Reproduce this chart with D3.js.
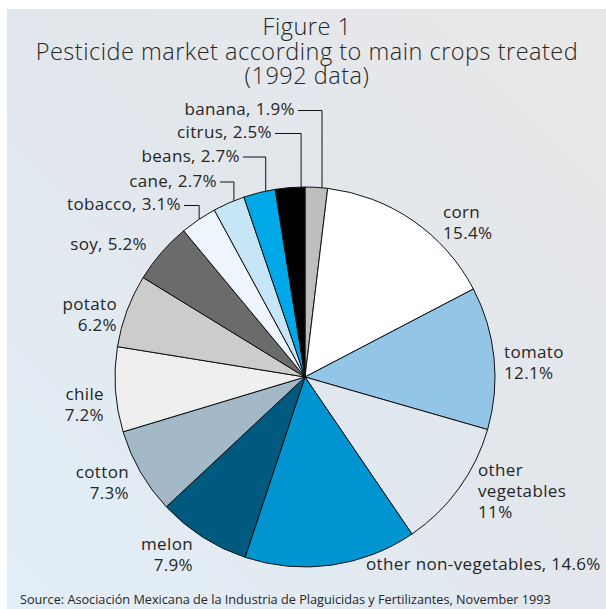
<!DOCTYPE html>
<html><head><meta charset="utf-8">
<script src="https://cdn.jsdelivr.net/npm/d3@7"></script>
<style>html,body{margin:0;padding:0;background:#fff;}svg{display:block;}</style>
</head><body>
<script>
const categories = ["banana","corn","tomato","other vegetables","other non-vegetables","melon","cotton","chile","potato","soy","tobacco","cane","beans","citrus"];
const values = [1.9,15.4,12.1,11,14.6,7.9,7.3,7.2,6.2,5.2,3.1,2.7,2.7,2.5];
const valueLabels = ["1.9%","15.4%","12.1%","11%","14.6%","7.9%","7.3%","7.2%","6.2%","5.2%","3.1%","2.7%","2.7%","2.5%"];
const sliceColors = ["#bebebe","#ffffff","#93c6e6","#e0e7ee","#0095d0","#005a80","#a3b9c8","#efefef","#cccccc","#6b6b6b","#eef5fc","#c6e6f8","#00a8e8","#000000"];
const titleLines = ["Figure 1","Pesticide market according to main crops treated","(1992 data)"];
const sourceText = "Source: Asociación Mexicana de la Industria de Plaguicidas y Fertilizantes, November 1993";

// label layout (offsets from pie centre), kept apart from the data
const labelLayout = {
  "banana":{dx:-10,dy:-262,anchor:"end",mode:"inline",leaderAt:0.75},
  "citrus":{dx:-33,dy:-239,anchor:"end",mode:"inline",leaderAt:0.87},
  "beans":{dx:-65,dy:-215.5,anchor:"end",mode:"inline",leaderAt:0.70},
  "cane":{dx:-88,dy:-190.5,anchor:"end",mode:"inline",leaderAt:0.67},
  "tobacco":{dx:-124,dy:-167,anchor:"end",mode:"inline",leaderAt:0.52},
  "soy":{dx:-158,dy:-127,anchor:"end",mode:"inline"},
  "potato":{dx:-188,dy:-67,anchor:"end",mode:"stack"},
  "chile":{dx:-201,dy:23,anchor:"end",mode:"stack"},
  "cotton":{dx:-176,dy:101,anchor:"end",mode:"stack"},
  "melon":{dx:-112,dy:173,anchor:"end",mode:"stack"},
  "other non-vegetables":{dx:61,dy:193,anchor:"start",mode:"inline"},
  "other vegetables":{dx:173,dy:98.5,anchor:"start",mode:"stack"},
  "tomato":{dx:199,dy:-19,anchor:"start",mode:"stack"},
  "corn":{dx:138,dy:-159,anchor:"start",mode:"stack"}
};

const W = 606, H = 609;
const cx = 305, cy = 377, R = 190;
const font = "'Open Sans', sans-serif";
const textColor = "#262626";

const svg = d3.select("body").append("svg").attr("width", W).attr("height", H);
const defs = svg.append("defs");
const grad = defs.append("linearGradient").attr("id","bg").attr("x1","0").attr("y1","1").attr("x2","1").attr("y2","0");
grad.append("stop").attr("offset","0").attr("stop-color","#e2eff8");
grad.append("stop").attr("offset","0.5").attr("stop-color","#e2e7ed");
grad.append("stop").attr("offset","1").attr("stop-color","#e8e8e8");

svg.append("rect").attr("x",0).attr("y",0).attr("width",W).attr("height",H).attr("fill","#fff");
svg.append("rect").attr("x",7).attr("y",9).attr("width",W-7).attr("height",H-9).attr("fill","url(#bg)");

// title
const title = svg.append("text").attr("text-anchor","middle").attr("font-family",font)
  .attr("font-size",23.5).attr("font-weight",300).attr("letter-spacing",0.5).attr("fill",textColor);
titleLines.forEach((t,i)=>{
  title.append("tspan").attr("x",307).attr("y",35 + i*24.5).text(t);
});

// pie
const pie = d3.pie().sort(null).value(d=>d).startAngle(0).endAngle(2*Math.PI);
const arcs = pie(values);
const arc = d3.arc().innerRadius(0).outerRadius(R);
const g = svg.append("g").attr("transform",`translate(${cx},${cy})`);
g.selectAll("path").data(arcs).join("path")
  .attr("d",arc)
  .attr("fill",(d,i)=>sliceColors[i])
  .attr("stroke","#111").attr("stroke-width",1).attr("stroke-linejoin","round");

// labels
const lg = svg.append("g").attr("transform",`translate(${cx},${cy})`)
  .attr("font-family",font).attr("font-size",17).attr("font-weight",400)
  .attr("letter-spacing",0.35).attr("fill",textColor);
const lineH = 21;
arcs.forEach((a,i)=>{
  const name = categories[i];
  const L = labelLayout[name];
  const t = lg.append("text").attr("text-anchor",L.anchor);
  let lines;
  if (L.mode === "inline") lines = [name + ", " + valueLabels[i]];
  else lines = (name === "other vegetables" ? ["other","vegetables"] : [name]).concat([valueLabels[i]]);
  lines.forEach((s,k)=>{
    t.append("tspan").attr("x",L.dx).attr("y",L.dy + k*lineH).text(s);
  });
  if (L.leaderAt !== undefined) {
    const w = t.node().getComputedTextLength();
    const ang = a.startAngle + L.leaderAt*(a.endAngle - a.startAngle);
    const lx = R*Math.sin(ang);
    const ly = L.dy - 4.5;
    const ey = -Math.sqrt(R*R - lx*lx);
    const x0 = L.anchor === "end" ? L.dx + 3 : L.dx + w + 3;
    lg.append("path")
      .attr("d",`M${x0},${ly}H${lx}V${ey}`)
      .attr("fill","none").attr("stroke","#111").attr("stroke-width",1);
  }
});

// source
svg.append("text").attr("x",20).attr("y",604).attr("font-family",font)
  .attr("font-size",12.7).attr("fill",textColor).text(sourceText);
</script>
</body></html>
